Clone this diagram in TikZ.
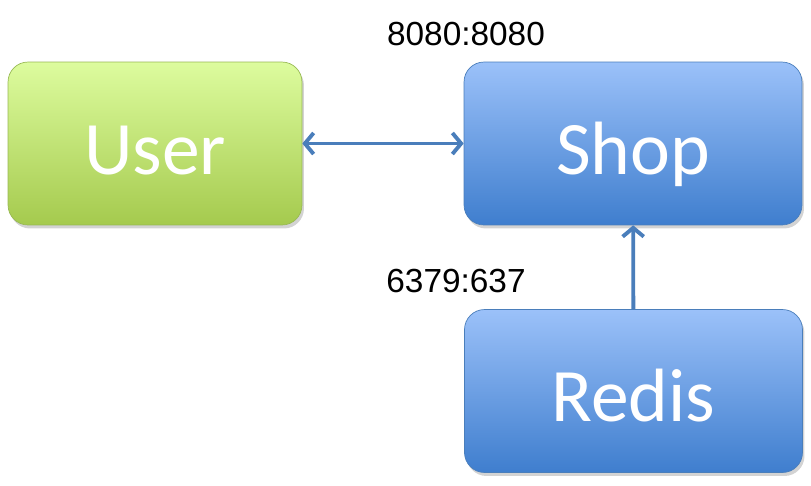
\documentclass[tikz,border=0pt]{standalone}
\usepackage{fontspec}
\setmainfont{Carlito}
\newfontfamily\lblfont{Liberation Sans}
\usetikzlibrary{arrows.meta,shadows}
\definecolor{gtop}{HTML}{DDFC9E}
\definecolor{gbot}{HTML}{A5CA4E}
\definecolor{gline}{HTML}{98B954}
\definecolor{btop}{HTML}{9BC1F9}
\definecolor{bbot}{HTML}{3F7ECE}
\definecolor{bline}{HTML}{4A7EBB}
\tikzset{
    GB/.style ={rectangle,rounded corners=0.4cm,draw=gline,top color=gtop,bottom color=gbot,
        minimum width=5.88cm,minimum height=3.26cm,text=white,font=\fontsize{43}{48}\selectfont,
        text height=34.8pt,text depth=0pt,
        drop shadow={shadow xshift=0.04cm,shadow yshift=-0.07cm,opacity=0.35}},
    BB/.style ={GB,draw=bline,top color=btop,bottom color=bbot,minimum width=6.76cm},
    AR/.style ={draw=bline,line width=2.2pt},
    PL/.style ={font=\lblfont\fontsize{19}{22}\selectfont}}
\begin{document}
\begin{tikzpicture}[x=0.02cm,y=-0.02cm]
        \useasboundingbox (0,0) rectangle (811,485);
        \node[GB] (user) at(155,143.5){User};
        \node[BB] (shop) at(633,143.5){Shop};
        \node[BB] (redis) at(633.5,391){Redis};
        \draw[AR,{Straight Barb[length=5pt,width=12pt]}-{Straight Barb[length=5pt,width=12pt]}] (user) -- (shop);
        \draw[AR,-{Straight Barb[length=5pt,width=12pt]}] (redis) -- (shop);
        \node[PL] (ptop) at(466,34){8080:8080};
        \node[PL] (pbot) at(456,281){6379:637};
    \end{tikzpicture}
\end{document}
